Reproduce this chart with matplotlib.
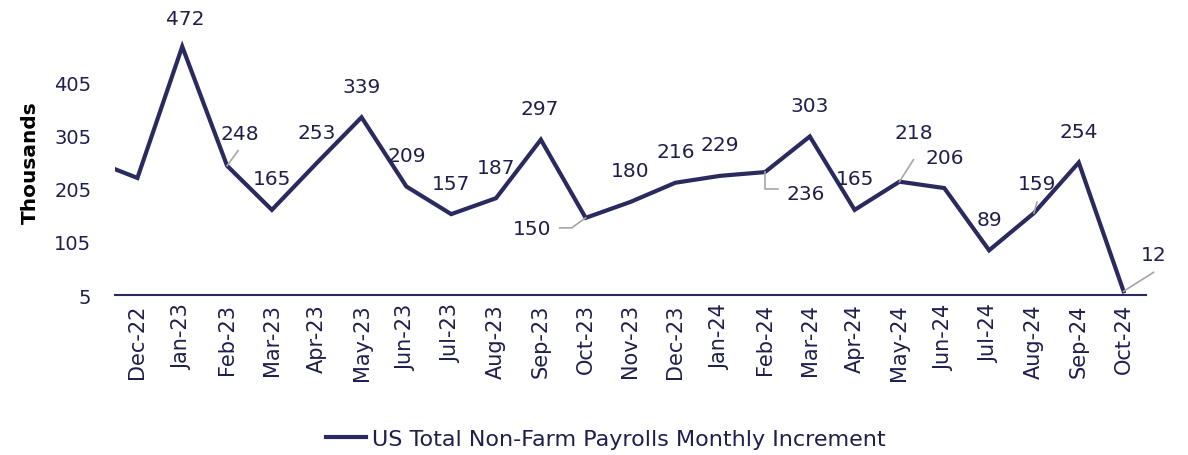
import numpy as np
import matplotlib
matplotlib.use("Agg")
import matplotlib.pyplot as plt
from matplotlib.lines import Line2D

# monthly change in US non-farm payrolls, thousands
months = ['Nov-22', 'Dec-22', 'Jan-23', 'Feb-23', 'Mar-23', 'Apr-23', 'May-23', 'Jun-23',
          'Jul-23', 'Aug-23', 'Sep-23', 'Oct-23', 'Nov-23', 'Dec-23', 'Jan-24', 'Feb-24',
          'Mar-24', 'Apr-24', 'May-24', 'Jun-24', 'Jul-24', 'Aug-24', 'Sep-24', 'Oct-24']
payrolls = [258, 225, 472, 248, 165, 253, 339, 209, 157, 187, 297, 150, 180, 216, 229, 236,
            303, 165, 218, 206, 89, 159, 254, 12]
yticks = [5, 105, 205, 305, 405]

navy = '#2b2a5e'
txt = '#1f1f4d'
grey = '#a6a6a6'
plt.rcParams['font.family'] = ['DejaVu Sans']

fig = plt.figure(figsize=(11.88, 4.56), dpi=100)
ax = fig.add_axes([115 / 1188, 1 - 296 / 456, (1146 - 115) / 1188, (296 - 30) / 456])

x = np.arange(len(months))
ax.plot(x, payrolls, color=navy, lw=3, solid_joinstyle='miter',
        label='US Total Non-Farm Payrolls Monthly Increment')

ax.set_xlim(0.5, len(months) - 0.5)
ax.set_ylim(5, 505)
ax.set_yticks(yticks)
ax.set_yticklabels([str(v) for v in yticks], fontsize=14, color=txt)
ax.set_xticks(x[1:])
ax.set_xticklabels(months[1:], rotation=90, fontsize=15, color=txt)
ax.tick_params(axis='y', length=0, pad=17)
ax.tick_params(axis='x', length=0, pad=6)
for s in ['top', 'right', 'left']:
    ax.spines[s].set_visible(False)
ax.spines['bottom'].set_color(navy)
ax.spines['bottom'].set_linewidth(1.5)
ax.set_ylabel('Thousands', fontsize=14.5, fontweight='bold', color='black', labelpad=10)

# label placement (pixel offsets from the point) and leader lines
offsets = {2: (3, 28), 3: (13, 32), 10: (-1, 31), 11: (-54, -11), 15: (41, -21),
           18: (14, 49), 21: (3, 30), 22: (0, 31), 23: (30, 37)}
leaders = {3: [(0, 0), (11, 15)], 11: [(0, 0), (-14, -10), (-26, -10)],
           15: [(0, 0), (0, -17), (13, -17)], 18: [(0, 0), (14, 22)],
           21: [(0, 0), (3, 11)], 23: [(0, 0), (30, 19)]}

for i in range(2, len(months)):
    dx, dy = offsets.get(i, (0, 31))
    ax.annotate(str(payrolls[i]), (x[i], payrolls[i]), xytext=(dx, dy),
                textcoords='offset pixels', ha='center', va='center',
                fontsize=14.5, color=txt)

inv = fig.transFigure.inverted()
for i, pts in leaders.items():
    px, py = ax.transData.transform((x[i], payrolls[i]))
    fp = inv.transform([(px + a, py + b) for a, b in pts])
    fig.add_artist(Line2D(fp[:, 0], fp[:, 1], color=grey, lw=1.2, zorder=1))

fig.legend(loc='center', bbox_to_anchor=(0.51, 0.035), frameon=False,
           fontsize=16, handlelength=1.8, handletextpad=0.25, labelcolor=txt)

fig.savefig('out.png', dpi=100)
